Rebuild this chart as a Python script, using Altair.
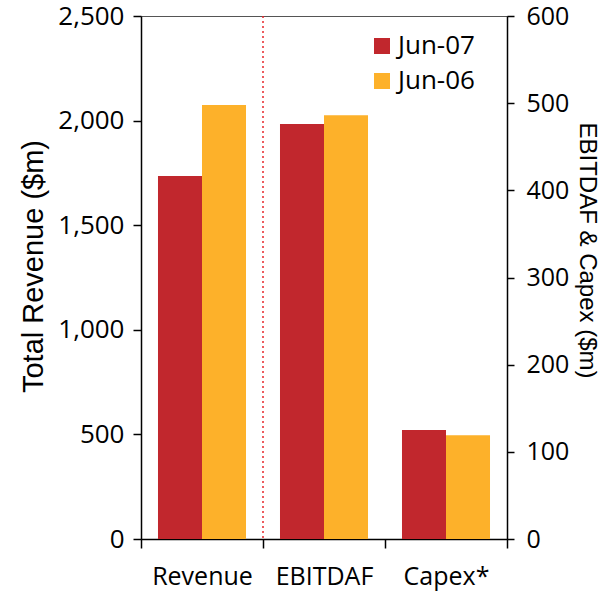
import altair as alt
import pandas as pd

# Categories and the two reporting periods
categories = ["Revenue", "EBITDAF", "Capex*"]
periods = ["Jun-07", "Jun-06"]

# Values in $m for each period, in category order
jun07 = [1735, 476, 125]
jun06 = [2075, 486, 119]

left_ticks = [0, 500, 1000, 1500, 2000, 2500]
right_ticks = [0, 100, 200, 300, 400, 500, 600]

colors = ["#C1272D", "#FDB12A"]
FONT = "Open Sans"
TITLE_FONT = "Liberation Sans"

rows = []
for i, cat in enumerate(categories):
    rows.append({"category": cat, "period": periods[0], "value": jun07[i]})
    rows.append({"category": cat, "period": periods[1], "value": jun06[i]})
df = pd.DataFrame(rows)

x_enc = alt.X(
    "category:N",
    sort=categories,
    scale=alt.Scale(paddingInner=0, paddingOuter=0),
    axis=alt.Axis(
        title=None, labelAngle=0, tickBand="extent", tickSize=9,
        labelPadding=16, labelFontSize=25,
    ),
)
offset_enc = alt.XOffset(
    "period:N", sort=periods, scale=alt.Scale(paddingInner=0, paddingOuter=0.386)
)
color_enc = alt.Color(
    "period:N",
    sort=periods,
    scale=alt.Scale(domain=periods, range=colors),
    legend=alt.Legend(
        title=None, orient="none", legendX=228, legendY=17,
        symbolType="square", symbolSize=256, symbolStrokeWidth=0,
        labelFontSize=26, labelFont=FONT, labelColor="black",
        rowPadding=9, symbolOpacity=1, labelOffset=3,
    ),
)

base = alt.Chart(df)

revenue = base.transform_filter(alt.datum.category == "Revenue").mark_bar().encode(
    x=x_enc,
    xOffset=offset_enc,
    color=color_enc,
    y=alt.Y(
        "value:Q",
        scale=alt.Scale(domain=[0, 2500]),
        axis=alt.Axis(
            orient="left", values=left_ticks, format=",d",
            title="Total Revenue ($m)", titleFont=TITLE_FONT, titleFontSize=29,
            titleY=250, tickSize=8, labelPadding=9, labelFontSize=26,
            titlePadding=9,
        ),
    ),
)

others = base.transform_filter(alt.datum.category != "Revenue").mark_bar().encode(
    x=x_enc,
    xOffset=offset_enc,
    color=color_enc,
    y=alt.Y(
        "value:Q",
        scale=alt.Scale(domain=[0, 600]),
        axis=alt.Axis(
            orient="right", values=right_ticks, format="d",
            title="EBITDAF & Capex ($m)", titleFont=TITLE_FONT, titleFontSize=24,
            titleY=234, tickSize=7, labelPadding=12, titlePadding=6,
        ),
    ),
)

# Dotted divider on the right edge of the Revenue band
divider = base.transform_filter(
    (alt.datum.category == "Revenue") & (alt.datum.period == "Jun-07")
).mark_rule(color="#E8262B", strokeDash=[2, 3], strokeWidth=1.5).encode(
    x=alt.X("category:N", sort=categories, bandPosition=1),
)

chart = (
    alt.layer(revenue, others, divider)
    .resolve_scale(y="independent")
    .properties(
        width=366,
        height=523,
        autosize=alt.AutoSizeParams(type="none"),
        padding={"left": 141, "top": 16, "right": 100, "bottom": 53},
    )
    .configure_view(stroke="#555555", strokeWidth=1)
    .configure_axis(
        grid=False,
        domainColor="black",
        domainWidth=1.5,
        tickColor="black",
        tickWidth=1.5,
        labelColor="black",
        titleColor="black",
        labelFont=FONT,
        titleFont=FONT,
        labelFontSize=25,
        titleFontWeight="normal",
    )
)

chart.save("out.html", embed_options={"renderer": "svg", "actions": False})
